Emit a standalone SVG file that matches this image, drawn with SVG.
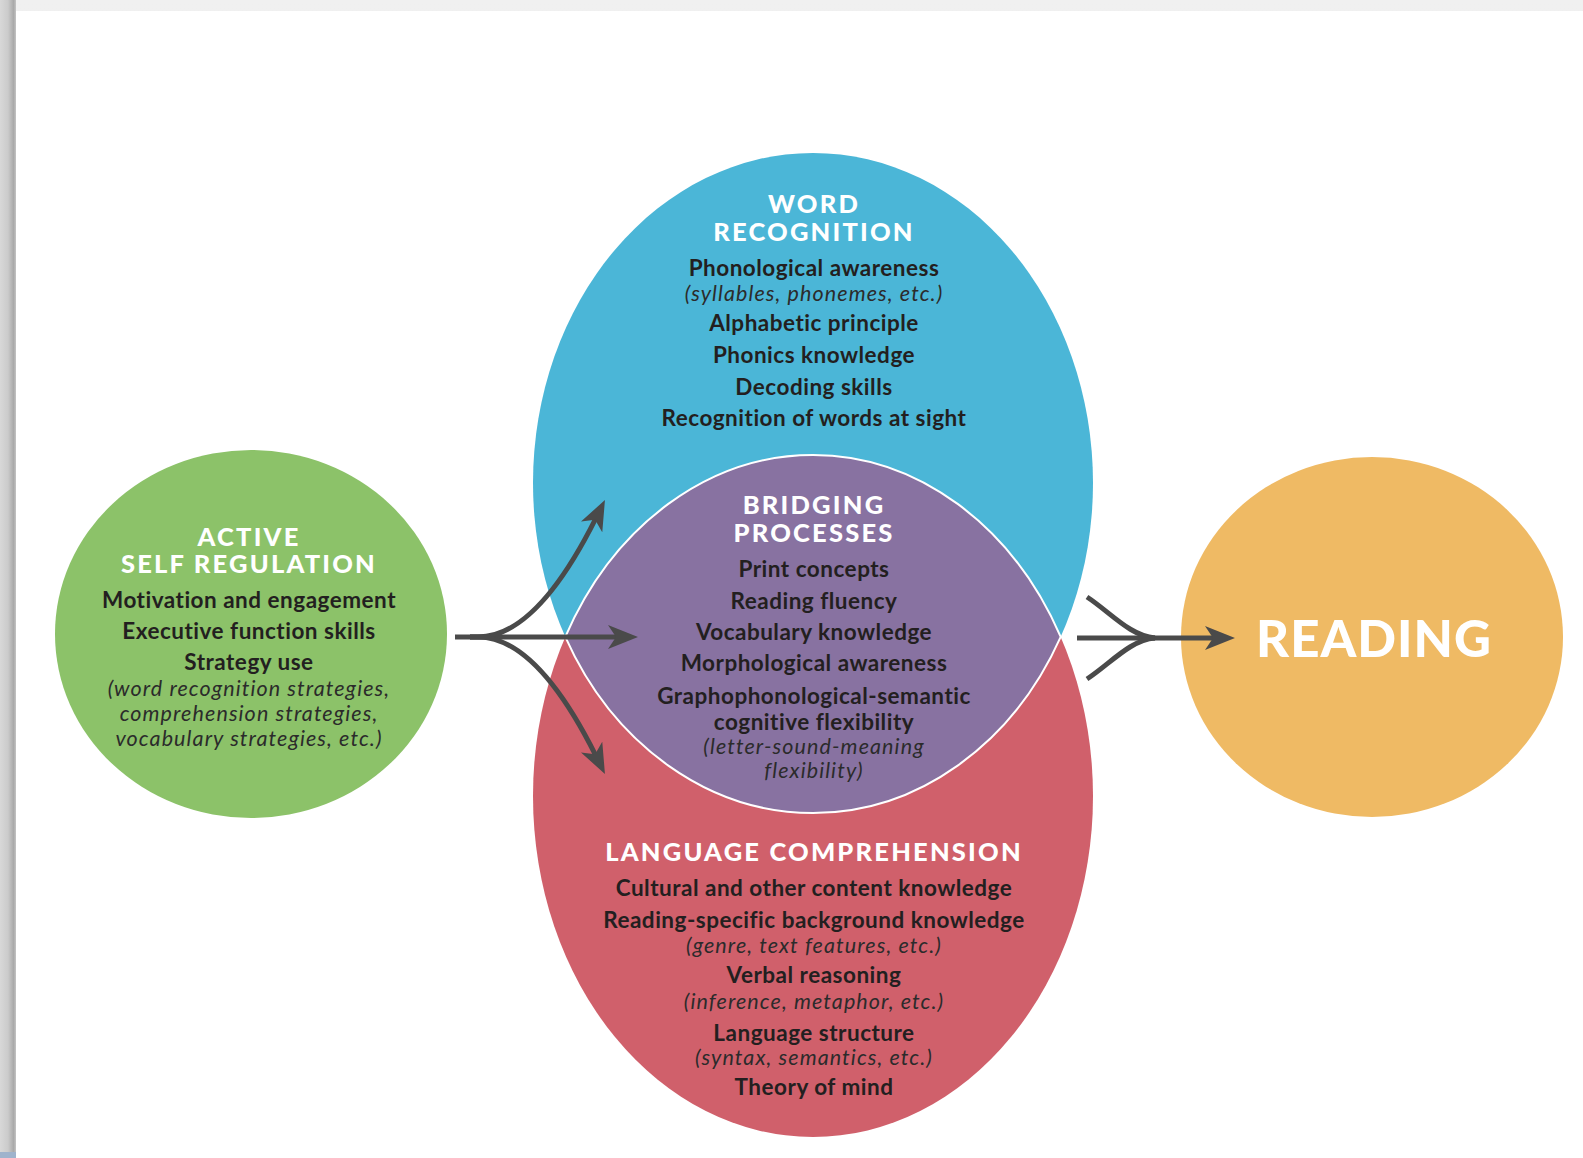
<svg xmlns="http://www.w3.org/2000/svg" width="1583" height="1158" viewBox="0 0 1583 1158">
<defs>
<linearGradient id="lg" x1="0" y1="0" x2="1" y2="0">
<stop offset="0" stop-color="#d8d8d8"/><stop offset="0.5" stop-color="#cbcbcb"/><stop offset="0.85" stop-color="#a9a9a9"/><stop offset="1" stop-color="#c4c4c4"/>
</linearGradient>
<linearGradient id="tg" x1="0" y1="0" x2="0" y2="1">
<stop offset="0" stop-color="#f0f0f0"/><stop offset="1" stop-color="#e2e2e2"/>
</linearGradient>
<marker id="ah" markerUnits="userSpaceOnUse" markerWidth="30" markerHeight="24" viewBox="0 0 30 24" refX="10" refY="12" orient="auto">
<path d="M0 0 L30 12 L0 24 L8 12 Z" fill="#4a4a4a"/>
</marker>
<style>
.h{font-family:Lato,"Liberation Sans",sans-serif;font-weight:900;fill:#ffffff;font-size:25.5px;letter-spacing:2.2px;text-anchor:middle}
.b{font-family:Lato,"Liberation Sans",sans-serif;font-weight:700;fill:#231f20;font-size:22.5px;letter-spacing:0.5px;text-anchor:middle}
.i{font-family:Lato,"Liberation Sans",sans-serif;font-style:italic;font-weight:400;fill:#2b2b2b;font-size:21.5px;letter-spacing:1.1px;text-anchor:middle}
.c{fill:none;stroke:#4a4a4a;stroke-width:5}
</style>
</defs>
<rect x="0" y="0" width="1583" height="1158" fill="url(#tg)"/>
<rect x="0" y="0" width="16" height="1158" fill="url(#lg)"/>
<rect x="0" y="1152" width="16" height="6" fill="#9fb3cc"/>
<rect x="16" y="11" width="1567" height="1147" fill="#ffffff"/>

<g id="word-recognition">
<ellipse cx="813" cy="483" rx="280" ry="330" fill="#4bb6d7"/>
<text class="h" x="814" y="213">WORD</text>
<text class="h" x="814" y="241">RECOGNITION</text>
<text class="b" x="814" y="276">Phonological awareness</text>
<text class="i" x="814" y="301">(syllables, phonemes, etc.)</text>
<text class="b" x="814" y="331">Alphabetic principle</text>
<text class="b" x="814" y="363">Phonics knowledge</text>
<text class="b" x="814" y="395">Decoding skills</text>
<text class="b" x="814" y="426">Recognition of words at sight</text>
</g>

<g id="language-comprehension">
<ellipse cx="813" cy="796" rx="280" ry="341" fill="#d0606b"/>
<text class="h" x="814" y="861">LANGUAGE COMPREHENSION</text>
<text class="b" x="814" y="896">Cultural and other content knowledge</text>
<text class="b" x="814" y="928">Reading-specific background knowledge</text>
<text class="i" x="814" y="953">(genre, text features, etc.)</text>
<text class="b" x="814" y="983">Verbal reasoning</text>
<text class="i" x="814" y="1009">(inference, metaphor, etc.)</text>
<text class="b" x="814" y="1041">Language structure</text>
<text class="i" x="814" y="1065">(syntax, semantics, etc.)</text>
<text class="b" x="814" y="1095">Theory of mind</text>
</g>

<g id="bridging-processes">
<path d="M565.3 636.9 A280 341 0 0 1 1060.7 636.9 A280 330 0 0 1 565.3 636.9 Z" fill="#8872a1" stroke="#ffffff" stroke-width="2"/>
<text class="h" x="814" y="514">BRIDGING</text>
<text class="h" x="814" y="542">PROCESSES</text>
<text class="b" x="814" y="577">Print concepts</text>
<text class="b" x="814" y="609">Reading fluency</text>
<text class="b" x="814" y="640">Vocabulary knowledge</text>
<text class="b" x="814" y="671">Morphological awareness</text>
<text class="b" x="814" y="704">Graphophonological-semantic</text>
<text class="b" x="814" y="730">cognitive flexibility</text>
<text class="i" x="814" y="754">(letter-sound-meaning</text>
<text class="i" x="814" y="778">flexibility)</text>
</g>

<g id="active-self-regulation">
<ellipse cx="251" cy="634" rx="196" ry="184" fill="#8cc269"/>
<text class="h" x="249" y="546">ACTIVE</text>
<text class="h" x="249" y="573">SELF REGULATION</text>
<text class="b" x="249" y="608">Motivation and engagement</text>
<text class="b" x="249" y="639">Executive function skills</text>
<text class="b" x="249" y="670">Strategy use</text>
<text class="i" x="249" y="696">(word recognition strategies,</text>
<text class="i" x="249" y="721">comprehension strategies,</text>
<text class="i" x="249" y="746">vocabulary strategies, etc.)</text>
</g>

<g id="reading">
<ellipse cx="1372" cy="637" rx="191" ry="180" fill="#efba64"/>
<text class="h" x="1374" y="657" style="font-size:51px;letter-spacing:1px">READING</text>
</g>

<g id="connectors">
<path class="c" d="M455 637 L618 637" marker-end="url(#ah)"/>
<path class="c" d="M470 637 L478 637 C520 637 560 590 596 518" marker-end="url(#ah)"/>
<path class="c" d="M470 637 L478 637 C520 637 560 684 596 756" marker-end="url(#ah)"/>
<path class="c" d="M1077 638 L1215 638" marker-end="url(#ah)"/>
<path class="c" d="M1087 597 C1110 612 1130 636 1155 638"/>
<path class="c" d="M1087 679 C1110 664 1130 640 1155 638"/>
</g>
</svg>
